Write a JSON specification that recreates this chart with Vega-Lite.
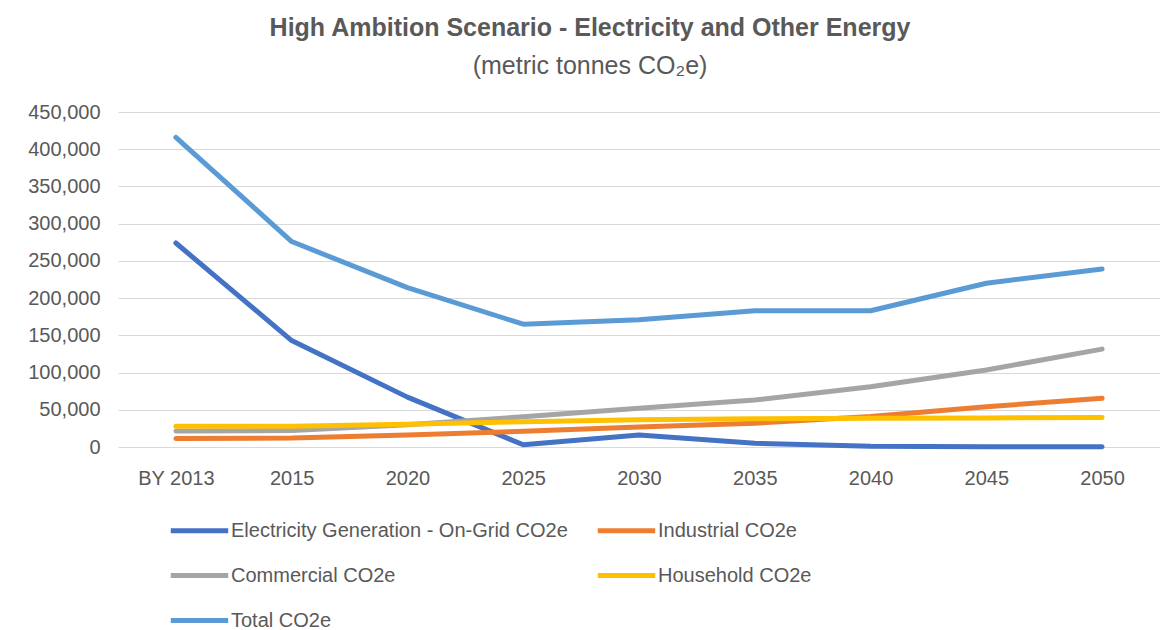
{
  "$schema": "https://vega.github.io/schema/vega-lite/v6.json",
  "width": 1042,
  "height": 335,
  "autosize": {"type": "none"},
  "padding": {"left": 118, "top": 112, "right": 0, "bottom": 183},
  "background": "white",
  "title": {
    "text": "High Ambition Scenario - Electricity and Other Energy",
    "subtitle": "(metric tonnes CO₂e)",
    "anchor": "middle",
    "frame": "group",
    "dx": -49,
    "offset": 23,
    "font": "Liberation Sans",
    "fontSize": 25,
    "fontWeight": "bold",
    "color": "#595959",
    "subtitleFont": "Liberation Sans",
    "subtitleFontSize": 25,
    "subtitleColor": "#595959",
    "subtitlePadding": 13
  },
  "data": {
    "values": [
      {"year": "BY 2013", "series": "Electricity Generation - On-Grid CO2e", "value": 274000},
      {"year": "2015", "series": "Electricity Generation - On-Grid CO2e", "value": 143000},
      {"year": "2020", "series": "Electricity Generation - On-Grid CO2e", "value": 67000},
      {"year": "2025", "series": "Electricity Generation - On-Grid CO2e", "value": 3000},
      {"year": "2030", "series": "Electricity Generation - On-Grid CO2e", "value": 16000},
      {"year": "2035", "series": "Electricity Generation - On-Grid CO2e", "value": 5000},
      {"year": "2040", "series": "Electricity Generation - On-Grid CO2e", "value": 1000},
      {"year": "2045", "series": "Electricity Generation - On-Grid CO2e", "value": 500},
      {"year": "2050", "series": "Electricity Generation - On-Grid CO2e", "value": 300},
      {"year": "BY 2013", "series": "Industrial CO2e", "value": 11500},
      {"year": "2015", "series": "Industrial CO2e", "value": 12000},
      {"year": "2020", "series": "Industrial CO2e", "value": 16000},
      {"year": "2025", "series": "Industrial CO2e", "value": 21000},
      {"year": "2030", "series": "Industrial CO2e", "value": 27000},
      {"year": "2035", "series": "Industrial CO2e", "value": 32000},
      {"year": "2040", "series": "Industrial CO2e", "value": 41000},
      {"year": "2045", "series": "Industrial CO2e", "value": 54000},
      {"year": "2050", "series": "Industrial CO2e", "value": 65500},
      {"year": "BY 2013", "series": "Commercial  CO2e", "value": 21500},
      {"year": "2015", "series": "Commercial  CO2e", "value": 22000},
      {"year": "2020", "series": "Commercial  CO2e", "value": 30000},
      {"year": "2025", "series": "Commercial  CO2e", "value": 40500},
      {"year": "2030", "series": "Commercial  CO2e", "value": 52000},
      {"year": "2035", "series": "Commercial  CO2e", "value": 63000},
      {"year": "2040", "series": "Commercial  CO2e", "value": 81000},
      {"year": "2045", "series": "Commercial  CO2e", "value": 103500},
      {"year": "2050", "series": "Commercial  CO2e", "value": 131500},
      {"year": "BY 2013", "series": "Household CO2e", "value": 28000},
      {"year": "2015", "series": "Household CO2e", "value": 28000},
      {"year": "2020", "series": "Household CO2e", "value": 30500},
      {"year": "2025", "series": "Household CO2e", "value": 34000},
      {"year": "2030", "series": "Household CO2e", "value": 36500},
      {"year": "2035", "series": "Household CO2e", "value": 38000},
      {"year": "2040", "series": "Household CO2e", "value": 38500},
      {"year": "2045", "series": "Household CO2e", "value": 39000},
      {"year": "2050", "series": "Household CO2e", "value": 39500},
      {"year": "BY 2013", "series": "Total CO2e", "value": 416000},
      {"year": "2015", "series": "Total CO2e", "value": 276000},
      {"year": "2020", "series": "Total CO2e", "value": 214000},
      {"year": "2025", "series": "Total CO2e", "value": 165000},
      {"year": "2030", "series": "Total CO2e", "value": 171000},
      {"year": "2035", "series": "Total CO2e", "value": 183000},
      {"year": "2040", "series": "Total CO2e", "value": 183000},
      {"year": "2045", "series": "Total CO2e", "value": 220000},
      {"year": "2050", "series": "Total CO2e", "value": 239000}
    ]
  },
  "mark": {"type": "line", "strokeWidth": 5, "strokeCap": "round", "strokeJoin": "round"},
  "encoding": {
    "x": {
      "field": "year",
      "type": "ordinal",
      "sort": ["BY 2013", "2015", "2020", "2025", "2030", "2035", "2040", "2045", "2050"],
      "scale": {"type": "point", "padding": 0.5},
      "axis": {
        "title": null,
        "labelAngle": 0,
        "ticks": false,
        "domain": false,
        "grid": false,
        "labelPadding": 21,
        "labelFont": "Liberation Sans",
        "labelFontSize": 20,
        "labelColor": "#595959"
      }
    },
    "y": {
      "field": "value",
      "type": "quantitative",
      "scale": {"domain": [0, 450000], "nice": false},
      "axis": {
        "title": null,
        "values": [0, 50000, 100000, 150000, 200000, 250000, 300000, 350000, 400000, 450000],
        "format": ",d",
        "ticks": false,
        "domain": false,
        "grid": true,
        "gridColor": "#D9D9D9",
        "gridWidth": 1,
        "labelPadding": 18,
        "labelFont": "Liberation Sans",
        "labelFontSize": 20,
        "labelColor": "#595959"
      }
    },
    "color": {
      "field": "series",
      "type": "nominal",
      "scale": {
        "domain": ["Electricity Generation - On-Grid CO2e", "Industrial CO2e", "Commercial  CO2e", "Household CO2e", "Total CO2e"],
        "range": ["#4472C4", "#ED7D31", "#A5A5A5", "#FFC000", "#5B9BD5"]
      },
      "legend": {
        "title": null,
        "orient": "none",
        "direction": "horizontal",
        "legendX": 50,
        "legendY": 387,
        "columns": 2,
        "symbolType": "stroke",
        "symbolSize": 3300,
        "symbolStrokeWidth": 5,
        "labelFont": "Liberation Sans",
        "labelFontSize": 20,
        "labelColor": "#595959",
        "labelOffset": 0,
        "labelLimit": 500,
        "rowPadding": 3,
        "columnPadding": 19
      }
    }
  },
  "config": {"view": {"stroke": null}}
}
